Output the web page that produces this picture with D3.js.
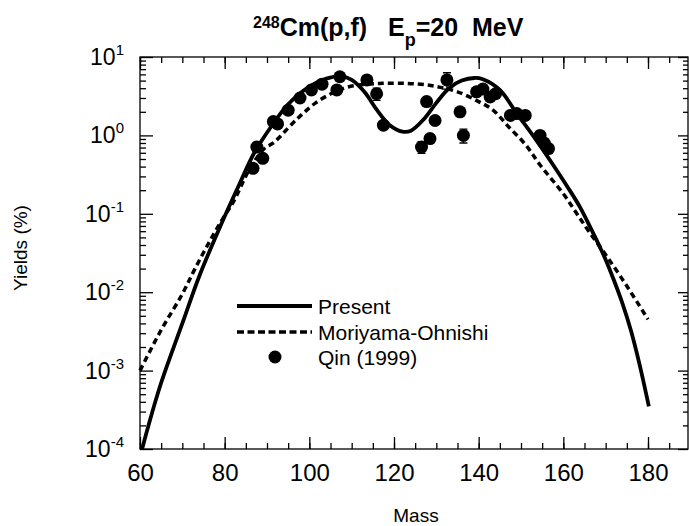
<!DOCTYPE html>
<html>
<head>
<meta charset="utf-8">
<script src="https://cdn.jsdelivr.net/npm/d3@7"></script>
<style>
  body { margin: 0; background: #fff; }
  text { font-family: "Liberation Sans", Arial, sans-serif; fill: #000; }
</style>
</head>
<body>
<div id="chart"></div>
<script>
const FWIDTH = 689, FHEIGHT = 526;
const MARGIN = { LEFT: 140, RIGHT: 1, TOP: 57, BOTTOM: 77 };
const WIDTH = FWIDTH - MARGIN.LEFT - MARGIN.RIGHT;
const HEIGHT = FHEIGHT - MARGIN.TOP - MARGIN.BOTTOM;

// Present calculation (solid)
const presentMass = [60.5, 62, 65, 70, 74, 79, 83.5, 87, 91, 95, 100, 104, 107.5, 110, 113, 116, 119, 122, 124, 127, 130, 133, 136, 139, 141, 145, 149, 152.8, 157.6, 161, 164, 166.5, 168.7, 170, 172, 174, 176, 178, 180.2];
const presentYield = [1e-4, 2e-4, 7e-4, 0.004, 0.016, 0.07, 0.24, 0.6, 1.3, 2.5, 4.2, 5.3, 5.7, 5.1, 3.6, 2.1, 1.35, 1.12, 1.15, 1.6, 2.6, 4.0, 5.0, 5.4, 5.2, 3.8, 1.9, 1.0, 0.42, 0.22, 0.12, 0.065, 0.037, 0.026, 0.014, 0.0071, 0.0032, 0.0012, 3.5e-4];

// Moriyama-Ohnishi (dashed)
const moMass = [60, 65, 70, 73, 76.5, 80, 82, 86, 89.5, 91.5, 95.9, 98.5, 101.5, 105.6, 109.6, 116.7, 123, 127.8, 131, 135, 140, 143.4, 147, 151, 154.5, 160, 163.2, 166, 170, 175, 180];
const moYield = [1e-3, 0.0033, 0.0095, 0.02, 0.045, 0.095, 0.14, 0.38, 0.69, 0.8, 1.4, 1.9, 2.6, 3.5, 4.2, 4.6, 4.6, 4.4, 4.1, 3.6, 2.7, 2.1, 1.3, 0.77, 0.42, 0.18, 0.1, 0.06, 0.03, 0.012, 0.0045];

// Qin (1999) measured points
const qinMass = [86.7, 87.6, 89, 91.5, 92.5, 95, 97.8, 100.5, 103, 106.5, 107.2, 113.6, 115.9, 117.5, 126.5, 127.7, 128.5, 129.7, 132.5, 135.6, 136.4, 139.5, 141, 142.7, 144, 147.5, 149, 151, 154.5, 155.5, 156.5];
const qinYield = [0.38, 0.71, 0.51, 1.5, 1.4, 2.1, 3.0, 3.8, 4.5, 3.8, 5.6, 5.1, 3.4, 1.35, 0.71, 2.7, 0.91, 1.55, 5.1, 2.0, 1.0, 3.6, 3.9, 3.1, 3.4, 1.8, 1.9, 1.8, 1.0, 0.8, 0.68];
const qinErr = [0, 0, 0, 0, 0, 0, 0, 0, 0, 0, 0, 0, 0.6, 0, 0.12, 0, 0, 0, 1.2, 0, 0.2, 0, 0, 0, 0, 0, 0, 0, 0, 0, 0];

const xTicks = [60, 80, 100, 120, 140, 160, 180];
const yTicks = [1e-4, 1e-3, 1e-2, 1e-1, 1, 10];
const yExp = ["-4", "-3", "-2", "-1", "0", "1"];

const svg = d3.select("#chart").append("svg")
  .attr("width", FWIDTH)
  .attr("height", FHEIGHT);

const g = svg.append("g")
  .attr("transform", `translate(${MARGIN.LEFT}, ${MARGIN.TOP})`);

// 60 -> 140px, 180 -> 648px
const pxPerMass = 508 / 120;
const x = d3.scaleLinear()
  .domain([60, 60 + WIDTH / pxPerMass])
  .range([0, WIDTH]);

const y = d3.scaleLog()
  .domain([1e-4, 10])
  .range([HEIGHT, 0]);

// frame
g.append("rect")
  .attr("width", WIDTH).attr("height", HEIGHT)
  .attr("fill", "none").attr("stroke", "#000").attr("stroke-width", 1.3);

// x ticks (bottom & top, inward)
const xMinor = d3.range(60, 190, 5);
g.append("g")
  .attr("transform", `translate(0, ${HEIGHT})`)
  .call(d3.axisBottom(x).tickValues(xMinor).tickSizeInner(-6).tickSizeOuter(0).tickFormat(""))
  .call(a => a.select(".domain").remove());
g.append("g")
  .attr("transform", `translate(0, ${HEIGHT})`)
  .call(d3.axisBottom(x).tickValues(xTicks).tickSizeInner(-12).tickSizeOuter(0).tickPadding(24).tickFormat(d3.format("d")))
  .call(a => a.select(".domain").remove())
  .call(a => a.selectAll("text").style("font-size", "24px").attr("dy", "0.35em"));
g.append("g")
  .call(d3.axisTop(x).tickValues(xMinor).tickSizeInner(-6).tickSizeOuter(0).tickFormat(""))
  .call(a => a.select(".domain").remove());
g.append("g")
  .call(d3.axisTop(x).tickValues(d3.range(60, 190, 20)).tickSizeInner(-12).tickSizeOuter(0).tickFormat(""))
  .call(a => a.select(".domain").remove());

// y ticks (left & right, inward)
const yMinor = [];
for (let e = -4; e < 1; e++) for (let m = 2; m <= 9; m++) yMinor.push(m * Math.pow(10, e));
g.append("g")
  .call(d3.axisLeft(y).tickValues(yMinor).tickSizeInner(-6).tickSizeOuter(0).tickFormat(""))
  .call(a => a.select(".domain").remove());
g.append("g")
  .call(d3.axisLeft(y).tickValues(yTicks).tickSizeInner(-13).tickSizeOuter(0).tickFormat(""))
  .call(a => a.select(".domain").remove());
g.append("g")
  .attr("transform", `translate(${WIDTH}, 0)`)
  .call(d3.axisRight(y).tickValues(yMinor).tickSizeInner(-5).tickSizeOuter(0).tickFormat(""))
  .call(a => a.select(".domain").remove());
g.append("g")
  .attr("transform", `translate(${WIDTH}, 0)`)
  .call(d3.axisRight(y).tickValues(yTicks).tickSizeInner(-10).tickSizeOuter(0).tickFormat(""))
  .call(a => a.select(".domain").remove());
g.selectAll(".tick line").attr("stroke-width", 1.3);

// y tick labels 10^n
yTicks.forEach((v, i) => {
  const t = g.append("text")
    .attr("x", -16)
    .attr("y", y(v) + 8)
    .attr("text-anchor", "end")
    .style("font-size", "23px");
  t.append("tspan").text("10");
  t.append("tspan").attr("dy", -10).style("font-size", "15px").text(yExp[i]);
});

// curves
const line = d3.line()
  .x(d => x(d[0]))
  .y(d => y(d[1]))
  .curve(d3.curveCatmullRom.alpha(0.5));

g.append("path")
  .datum(moMass.map((m, i) => [m, moYield[i]]))
  .attr("d", line)
  .attr("fill", "none")
  .attr("stroke", "#000")
  .attr("stroke-width", 3.5)
  .attr("stroke-dasharray", "6,4");

g.append("path")
  .datum(presentMass.map((m, i) => [m, presentYield[i]]))
  .attr("d", line)
  .attr("fill", "none")
  .attr("stroke", "#000")
  .attr("stroke-width", 3.8);

// data points
const qin = qinMass.map((m, i) => ({ m: m, v: qinYield[i], e: qinErr[i] }));
g.append("g").selectAll("line")
  .data(qin.filter(d => d.e > 0))
  .enter().append("line")
  .attr("x1", d => x(d.m)).attr("x2", d => x(d.m))
  .attr("y1", d => y(d.v - d.e)).attr("y2", d => y(d.v + d.e))
  .attr("stroke", "#000").attr("stroke-width", 1.3);
g.append("g").selectAll("path")
  .data(qin.filter(d => d.e > 0))
  .enter().append("path")
  .attr("d", d => `M${x(d.m) - 4},${y(d.v + d.e)}h8M${x(d.m) - 4},${y(d.v - d.e)}h8`)
  .attr("stroke", "#000").attr("stroke-width", 1.3);
g.append("g").selectAll("circle")
  .data(qin)
  .enter().append("circle")
  .attr("cx", d => x(d.m))
  .attr("cy", d => y(d.v))
  .attr("r", 6.5)
  .attr("fill", "#000");

// legend
const legend = svg.append("g").attr("transform", "translate(237, 306)");
legend.append("line").attr("x1", 0).attr("x2", 75).attr("y1", 0).attr("y2", 0)
  .attr("stroke", "#000").attr("stroke-width", 3.8);
legend.append("line").attr("x1", 0).attr("x2", 75).attr("y1", 26).attr("y2", 26)
  .attr("stroke", "#000").attr("stroke-width", 3.5).attr("stroke-dasharray", "7,3.5");
legend.append("circle").attr("cx", 38).attr("cy", 51).attr("r", 6.5).attr("fill", "#000");
["Present", "Moriyama-Ohnishi", "Qin (1999)"].forEach((s, i) => {
  legend.append("text")
    .attr("x", 81)
    .attr("y", i * 25.5 + 8)
    .style("font-size", "21px")
    .text(s);
});

// title
const title = svg.append("text")
  .attr("x", 253)
  .attr("y", 36)
  .style("font-weight", "bold")
  .style("font-size", "25px")
  .style("white-space", "pre");
title.append("tspan").attr("dy", -8).style("font-size", "16px").text("248");
title.append("tspan").attr("dy", 8).text("Cm(p,f)   E");
title.append("tspan").attr("dy", 10).style("font-size", "18px").text("p");
title.append("tspan").attr("dy", -10).text("=20  MeV");

// axis labels
svg.append("text")
  .attr("x", 416)
  .attr("y", 522)
  .attr("text-anchor", "middle")
  .style("font-size", "19px")
  .text("Mass");

svg.append("text")
  .attr("transform", "translate(27, 248) rotate(-90)")
  .attr("text-anchor", "middle")
  .style("font-size", "19px")
  .text("Yields (%)");
</script>
</body>
</html>
